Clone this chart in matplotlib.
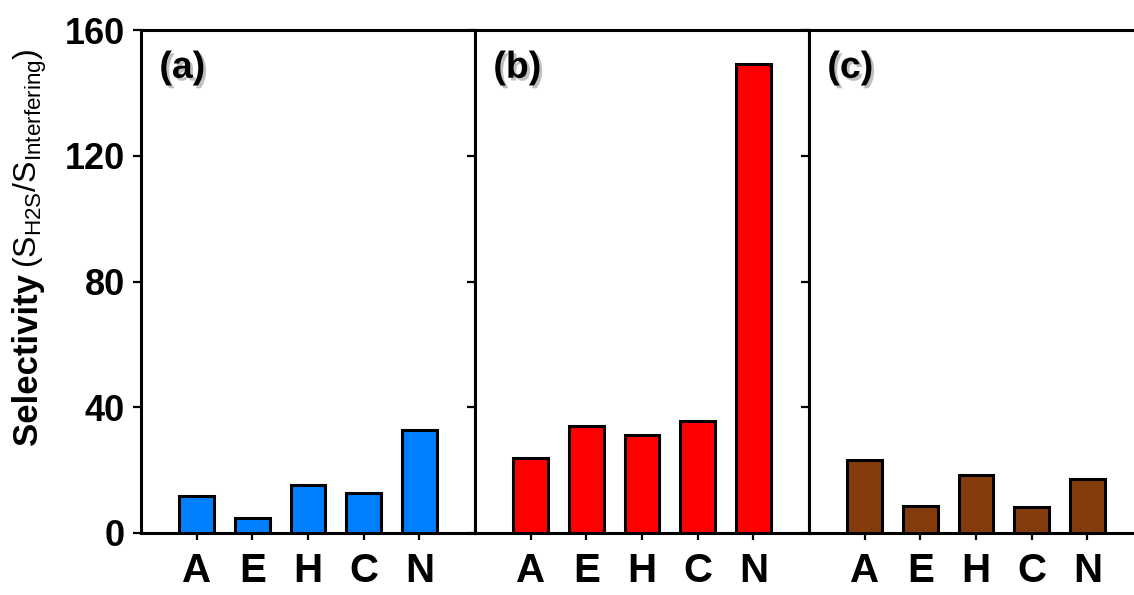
import matplotlib
matplotlib.use('Agg')
import matplotlib.pyplot as plt
import matplotlib.patheffects as pe

plt.rcParams['font.family'] = ['Liberation Sans', 'DejaVu Sans']
plt.rcParams['mathtext.fontset'] = 'custom'
plt.rcParams['mathtext.rm'] = 'Liberation Sans'
plt.rcParams['mathtext.it'] = 'Liberation Sans:italic'
plt.rcParams['mathtext.bf'] = 'Liberation Sans:bold'

categories = ['A', 'E', 'H', 'C', 'N']
panel_a = [11.9, 4.7, 15.2, 12.8, 32.8]
panel_b = [23.9, 34.0, 31.2, 35.6, 149.2]
panel_c = [23.2, 8.7, 18.5, 8.4, 17.2]
panel_labels = ['(a)', '(b)', '(c)']
colors = ['#007FFF', '#FF0000', '#843C0C']
yticks = [0, 40, 80, 120, 160]

fig = plt.figure(figsize=(11.34, 5.95), dpi=100)

left = 141 / 1134
width = 334 / 1134
bottom = 62 / 595
height = 503 / 595

x = list(range(len(categories)))
for i, (vals, lab, col) in enumerate(zip([panel_a, panel_b, panel_c], panel_labels, colors)):
    ax = fig.add_axes([left + i * width, bottom, width, height])
    ax.bar(x, vals, width=0.62, color=col, edgecolor='black', linewidth=2.2, zorder=3)
    ax.set_xlim(-1, 5)
    ax.set_ylim(0, 160)
    ax.set_yticks(yticks)
    ax.set_xticks(x)
    ax.set_xticklabels(categories, fontsize=29, fontweight='bold')
    for s in ax.spines.values():
        s.set_linewidth(2.2)
    ax.tick_params(axis='x', length=5, width=1.6, pad=9)
    ax.tick_params(axis='y', length=5.5, width=1.6, pad=6, labelsize=26)
    if i == 0:
        for t in ax.get_yticklabels():
            t.set_fontweight('bold')
    else:
        ax.set_yticklabels([])
    ax.text(0.055, 0.925, lab, transform=ax.transAxes, fontsize=27,
            fontweight='bold', va='center', ha='left',
            path_effects=[pe.SimplePatchShadow(offset=(2, -2), shadow_rgbFace='gray', alpha=0.5),
                          pe.Normal()])

# y label: bold word plus regular subscripted ratio
fig.text(37 / 1134, 150 / 595, 'Selectivity', rotation=90, rotation_mode='anchor',
         fontsize=25, fontweight='bold', ha='left', va='baseline')
fig.text(37 / 1134, 327 / 595, r'$(\mathregular{S_{H2S}/S_{Interfering}})$',
         rotation=90, rotation_mode='anchor', fontsize=23, ha='left', va='baseline')

fig.savefig('out.png', dpi=100)
